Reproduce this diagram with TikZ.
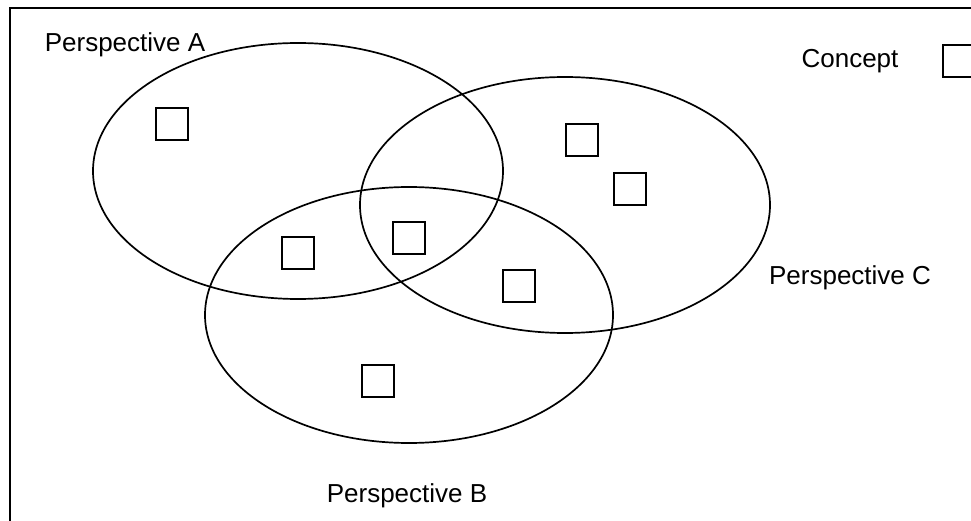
\documentclass[tikz,border=0pt]{standalone}
\usepackage{fontspec}
\setmainfont{Liberation Sans}
\begin{document}
\begin{tikzpicture}[x=1pt,y=-1pt,
  persp/.style={draw=black,line width=1.7pt},
  concept/.style={draw=black,line width=1.6pt,minimum width=32pt,minimum height=32pt,inner sep=0pt},
  lbl/.style={font=\fontsize{26}{30}\selectfont,inner sep=0pt}]
\useasboundingbox (0,0) rectangle (971,521);
\clip (0,0) rectangle (971,521);
% outer frame
\draw[line width=2pt] (10,540) -- (10,8) -- (990,8);
% perspectives
\draw[persp] (298,171) ellipse [x radius=205, y radius=128];
\draw[persp] (565,205) ellipse [x radius=205, y radius=128];
\draw[persp] (409,315) ellipse [x radius=204, y radius=128];
% labels
\node[lbl] (la) at (125,45) {Perspective A};
\node[lbl] (lc) at (850,278) {Perspective C};
\node[lbl] (lb) at (407,496) {Perspective B};
\node[lbl] (lk) at (850,61) {Concept};
% concepts
\node[concept] (k0) at (959,61) {};
\node[concept] (k1) at (172,124) {};
\node[concept] (k2) at (298,253) {};
\node[concept] (k3) at (409,238) {};
\node[concept] (k4) at (519,286) {};
\node[concept] (k5) at (582,140) {};
\node[concept] (k6) at (630,189) {};
\node[concept] (k7) at (378,381) {};
\end{tikzpicture}
\end{document}
